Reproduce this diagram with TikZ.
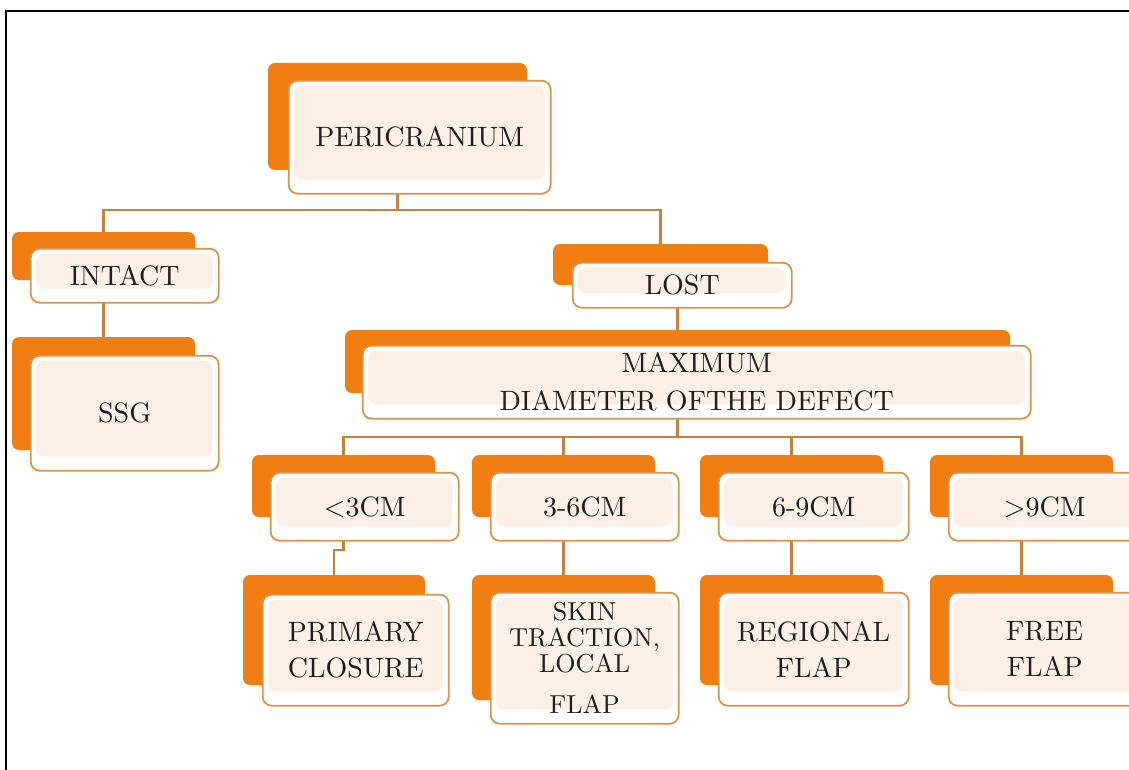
\documentclass[tikz,border=0pt]{standalone}
\usepackage{fontspec}
\setmainfont{lmroman10-regular.otf}
\usetikzlibrary{positioning}

\definecolor{boxorange}{RGB}{240,126,18}
\definecolor{edgeorange}{RGB}{214,148,78}
\definecolor{linkbrown}{RGB}{196,128,60}
\definecolor{peach}{RGB}{252,239,229}
\definecolor{inktext}{RGB}{30,30,30}

\begin{document}
\begin{tikzpicture}[x=1pt, y=-1pt,
        back/.style={fill=boxorange, rounded corners=7pt, inner sep=0pt, minimum width=183pt},
        front/.style={draw=edgeorange, line width=1.8pt, fill=white, rounded corners=9pt,
            inner sep=2pt, align=center, text=inktext, minimum width=188pt,
            font=\fontsize{28}{36}\selectfont,
            path picture={\fill[peach] ([shift={(5pt,-5pt)}]path picture bounding box.north west)
                rectangle ([shift={(-6pt,14pt)}]path picture bounding box.south east);}},
        link/.style={draw=linkbrown, line width=2.1pt},
        frame/.style={line width=2.2pt},
    ]
    \useasboundingbox (0,0) rectangle (1129,770);
    \draw[frame] (6,770) -- (6,11) -- (1129,11);

    % orange backs
    \node[back, minimum width=259pt, minimum height=107pt] (peri) at (397.5,116.5) {};
    \node[back, minimum height=48pt] (intact) at (103.5,256) {};
    \node[back, minimum height=113pt] (ssg) at (103.5,393.5) {};
    \node[back, minimum width=215pt, minimum height=41pt] (lost) at (660.5,264.5) {};
    \node[back, minimum width=665pt, minimum height=63pt] (maxd) at (677.5,361.5) {};
    \node[back, minimum height=62pt] (lt3) at (343.5,486) {};
    \node[back, minimum height=62pt] (mid36) at (563.5,486) {};
    \node[back, minimum height=62pt] (mid69) at (791.5,486) {};
    \node[back, minimum height=62pt] (gt9) at (1021.5,486) {};
    \node[back, minimum width=182pt, minimum height=110pt] (prim) at (334,630) {};
    \node[back, minimum height=125pt] (skin) at (563.5,637.5) {};
    \node[back, minimum height=110pt] (regio) at (791.5,630) {};
    \node[back, minimum height=110pt] (free) at (1021.5,630) {};

    % connectors
    \draw[link] (peri.south) -- ++(0,40) -| (intact.north);
    \draw[link] (peri.south) -- ++(0,40) -| (lost.north);
    \draw[link] (intact.south) -- (ssg.north);
    \draw[link] (lost.south) -- ++(0,22) -| (maxd.north);
    \foreach \kid in {lt3,mid36,mid69,gt9}
        \draw[link] (maxd.south) -- ++(0,44) -| (\kid.north);
    \draw[link] (lt3.south) -- ++(0,33) -| (prim.north);
    \draw[link] (mid36.south) -- (skin.north);
    \draw[link] (mid69.south) -- (regio.north);
    \draw[link] (gt9.south) -- (free.north);

    % front boxes
    \node[front, minimum width=262pt, minimum height=113pt, below right=17pt and 20pt of peri.north west] (perif) {PERICRANIUM};
    \node[front, minimum height=54pt, below right=16pt and 18pt of intact.north west] (intactf) {INTACT};
    \node[front, minimum height=115pt, below right=18pt and 18pt of ssg.north west] (ssgf) {SSG};
    \node[front, minimum width=219pt, minimum height=45pt, below right=18pt and 19pt of lost.north west] (lostf) {LOST};
    \node[front, minimum width=668pt, minimum height=73pt, below right=15pt and 17pt of maxd.north west] (maxdf) {MAXIMUM\\[2pt]DIAMETER OFTHE DEFECT};
    \node[front, minimum height=68pt, below right=17pt and 18pt of lt3.north west] (lt3f) {<3CM};
    \node[front, minimum height=68pt, below right=17pt and 18pt of mid36.north west] (mid36f) {3-6CM};
    \node[front, minimum width=190pt, minimum height=68pt, below right=17pt and 18pt of mid69.north west] (mid69f) {6-9CM};
    \node[front, minimum width=192pt, minimum height=68pt, below right=17pt and 18pt of gt9.north west] (gt9f) {>9CM};
    \node[front, minimum width=186pt, minimum height=111pt, below right=19pt and 19pt of prim.north west] (primf) {PRIMARY\\CLOSURE};
    \node[front, minimum height=131pt, below right=17pt and 18pt of skin.north west, font=\fontsize{26}{26}\selectfont] (skinf) {SKIN\\TRACTION,\\LOCAL\\[15pt]FLAP};
    \node[front, minimum width=190pt, minimum height=113pt, below right=17pt and 18pt of regio.north west] (regiof) {REGIONAL\\FLAP};
    \node[front, minimum width=192pt, minimum height=113pt, below right=17pt and 18pt of free.north west] (freef) {FREE\\FLAP};
\end{tikzpicture}
\end{document}
